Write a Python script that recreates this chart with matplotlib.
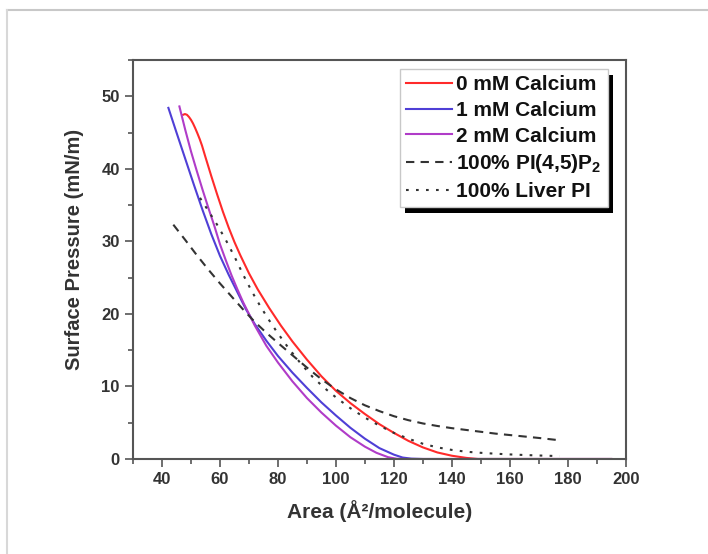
import matplotlib
matplotlib.use('Agg')
import matplotlib.pyplot as plt
from matplotlib.patches import Rectangle
from matplotlib.lines import Line2D
from matplotlib.transforms import IdentityTransform

plt.rcParams['font.family'] = ['Liberation Sans', 'DejaVu Sans']
plt.rcParams['font.weight'] = 'bold'
plt.rcParams['mathtext.fontset'] = 'custom'
plt.rcParams['mathtext.rm'] = 'Liberation Sans:bold'
plt.rcParams['mathtext.it'] = 'Liberation Sans:bold'
plt.rcParams['mathtext.bf'] = 'Liberation Sans:bold'
plt.rcParams['mathtext.default'] = 'rm'

# 0 mM calcium
x0 = [47.3, 47.9, 48.6, 49.3, 50.0, 50.7, 51.4, 52.2, 53.0, 53.8, 55, 57, 59, 61, 63, 65, 67,
      70, 73, 77, 81, 85, 90, 95, 100, 105, 110, 115, 120, 125, 130, 135, 140, 145, 149,
      160, 175, 188, 195]
y0 = [47.45, 47.55, 47.45, 47.15, 46.75, 46.25, 45.65, 44.9, 44.1, 43.2, 41.6, 39.0, 36.5,
      34.1, 31.9, 29.9, 28.1, 25.6, 23.4, 20.8, 18.4, 16.2, 13.7, 11.4, 9.4, 7.7, 6.2, 4.8,
      3.6, 2.5, 1.6, 0.9, 0.45, 0.15, 0.0, 0.0, 0.0, 0.0, 0.0]

# 1 mM calcium
x1 = [42.2, 45, 48, 51, 54, 57, 60, 63, 66, 69, 72, 76, 80, 85, 90, 95, 100, 105, 110,
      115, 120, 123, 126, 130, 160, 195]
y1 = [48.4, 45.0, 41.4, 37.8, 34.3, 31.0, 28.0, 25.4, 23.0, 20.6, 18.6, 16.3, 14.2, 11.9,
      9.8, 7.8, 6.0, 4.3, 2.8, 1.5, 0.6, 0.2, 0.05, 0.0, 0.0, 0.0]

# 2 mM calcium
x2 = [46.0, 48, 50, 52, 54, 56, 58, 60, 62, 64, 66, 68, 70, 72, 76, 80, 85, 90, 95, 100,
      105, 110, 114, 118, 121, 124, 160, 195]
y2 = [48.6, 45.4, 42.4, 39.7, 37.1, 34.6, 32.2, 29.6, 27.4, 25.3, 23.4, 21.6, 20.0, 18.4,
      15.6, 13.3, 10.7, 8.4, 6.4, 4.6, 3.0, 1.7, 0.85, 0.25, 0.03, 0.0, 0.0, 0.0]

# 100% PI(4,5)P2
xp = [43.9, 48, 52, 56, 60, 64, 68, 72, 76, 80, 85, 90, 95, 100, 105, 110, 115, 120, 125,
      130, 135, 140, 145, 150, 155, 160, 165, 170, 176.7]
yp = [32.3, 30.2, 28.1, 26.1, 24.2, 22.4, 20.6, 18.9, 17.4, 16.0, 14.3, 12.6, 11.0, 9.6,
      8.4, 7.4, 6.6, 5.9, 5.35, 4.9, 4.55, 4.25, 4.0, 3.75, 3.5, 3.3, 3.1, 2.9, 2.6]

# 100% liver PI
xl = [53.1, 56, 59, 62, 65, 68, 71, 74, 77, 80, 84, 88, 92, 96, 100, 105, 110, 115, 120,
      125, 130, 135, 140, 145, 150, 155, 160, 165, 170, 177.2]
yl = [36.0, 34.2, 32.3, 30.2, 27.9, 25.4, 23.1, 21.0, 19.1, 17.3, 15.1, 13.1, 11.3, 9.8,
      8.5, 7.0, 5.7, 4.6, 3.6, 2.8, 2.1, 1.6, 1.25, 1.0, 0.85, 0.73, 0.63, 0.55, 0.48, 0.4]

labels = ['0 mM Calcium', '1 mM Calcium', '2 mM Calcium',
          '100% PI(4,5)P$_2$', '100% Liver PI']

fig = plt.figure(figsize=(7.08, 5.54), dpi=100)
ax = fig.add_axes([0.1879, 0.1715, 0.6959, 0.7202])

ax.plot(x0, y0, color='#ff2a2a', lw=1.5, label=labels[0])
ax.plot(x1, y1, color='#4f3fd6', lw=1.5, label=labels[1])
ax.plot(x2, y2, color='#b03cc8', lw=1.5, label=labels[2])
ax.plot(xp, yp, color='#333333', lw=1.5, linestyle=(0, (4, 3)), label=labels[3])
ax.plot(xl, yl, color='#333333', lw=1.5, linestyle=(0, (1.3, 3.5)), label=labels[4])

ax.set_xlim(30, 200)
ax.set_ylim(0, 55)
ax.set_xticks(range(40, 201, 20))
ax.set_xticks(range(30, 201, 10), minor=True)
ax.set_yticks(range(0, 51, 10))
ax.set_yticks(range(0, 56, 5), minor=True)

for s in ax.spines.values():
    s.set_color('#555555')
    s.set_linewidth(1.5)
ax.tick_params(which='both', direction='out', color='#555555', width=1.2,
               labelsize=12, labelcolor='#333333')
ax.tick_params(which='major', length=6)
ax.tick_params(which='minor', length=3.5)

ax.set_xlabel('Area (Å²/molecule)', fontsize=15, fontweight='bold', color='#333333',
              labelpad=9)
ax.set_ylabel('Surface Pressure (mN/m)', fontsize=14.5, fontweight='bold', color='#333333')
ax.yaxis.set_label_coords(-0.1, 0.526)

leg = ax.legend(loc='upper right', bbox_to_anchor=(0.964, 0.977), borderaxespad=0,
                prop={'weight': 'bold', 'size': 15}, handlelength=2.2, handletextpad=0.2,
                labelspacing=0.32, borderpad=0.3, fancybox=False, framealpha=1)
leg.get_frame().set_edgecolor('#c8c8c8')
leg.get_frame().set_linewidth(1.0)
for t in leg.get_texts():
    t.set_color('#111111')

# black drop shadow behind the legend box
fig.canvas.draw()
bb = leg.get_window_extent()
shadow = Rectangle((bb.x0 + 5, bb.y0 - 6), bb.width, bb.height, transform=IdentityTransform(),
                   facecolor='black', edgecolor='none', zorder=4.9, clip_on=False)
ax.add_artist(shadow)

# light frame of the screenshot
fig.add_artist(Line2D([7 / 708, 1], [1 - 10 / 554, 1 - 10 / 554], color='#c8c8c8', lw=1.5))
fig.add_artist(Line2D([7 / 708, 7 / 708], [0, 1 - 10 / 554], color='#d8d8d8', lw=1.5))

fig.savefig('out.png', dpi=100)
